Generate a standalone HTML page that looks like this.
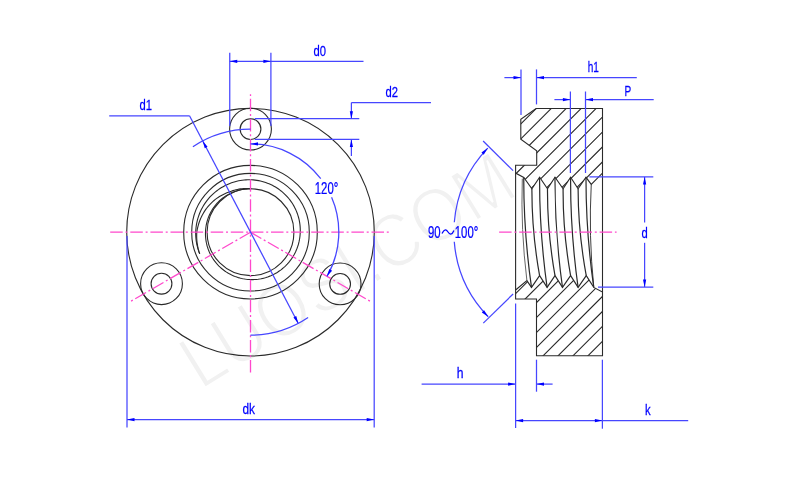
<!DOCTYPE html>
<html><head><meta charset="utf-8"><style>
html,body{margin:0;padding:0;background:#fff;}
svg{display:block;will-change:transform;}
text{font-family:"Liberation Sans",sans-serif;}
</style></head><body>
<svg width="800" height="481" viewBox="0 0 800 481">
<rect width="800" height="481" fill="#fff"/>
<text transform="translate(200.8 390.6) rotate(-31.6) scale(0.88 1)" font-size="76" fill="#f1f1f1" stroke="#fff" stroke-width="2">LUOSI.COM</text>
<circle cx="250.50" cy="232.20" r="123.80" fill="none" stroke="#2a2a2a" stroke-width="1.1"/>
<circle cx="250.50" cy="232.20" r="66.80" fill="none" stroke="#2a2a2a" stroke-width="1.1"/>
<circle cx="250.50" cy="232.20" r="58.80" fill="none" stroke="#2a2a2a" stroke-width="1.1"/>
<circle cx="250.50" cy="232.20" r="43.40" fill="none" stroke="#2a2a2a" stroke-width="1.1"/>
<path d="M199.69 253.77L199.00 251.97L198.37 250.15L197.81 248.31L197.32 246.45L196.88 244.58L196.52 242.69L196.22 240.80L195.99 238.89L195.82 236.98L195.72 235.07L195.69 233.16L195.74 231.24L195.86 229.34L196.04 227.44L196.30 225.54L196.62 223.67L197.00 221.80L197.45 219.95L197.96 218.12L198.54 216.31L199.18 214.53L199.87 212.77L200.63 211.03L201.45 209.33L202.33 207.66L203.26 206.02L204.25 204.41L205.30 202.84L206.40 201.32L207.55 199.83L208.75 198.39L210.00 196.99L211.30 195.64L212.64 194.34L214.02 193.08L215.45 191.88L216.92 190.73L218.42 189.63L219.96 188.58L221.53 187.59L223.14 186.66L224.77 185.78L226.42 184.95L228.10 184.17L229.81 183.46L231.54 182.81L233.29 182.22L235.06 181.69L236.84 181.22L238.64 180.82L240.45 180.48L242.26 180.20L244.09 179.99L245.92 179.84L247.75 179.76L249.58 179.74L251.41 179.79L253.24 179.91L255.06 180.10L256.87 180.35L258.66 180.66L260.44 181.04L262.21 181.47L263.96 181.97L265.69 182.53L267.39 183.15L269.07 183.82L270.72 184.55L272.35 185.34L273.94 186.19L275.51 187.09L277.03 188.04L278.53 189.04L279.98 190.10L281.40 191.20L282.77 192.35L284.10 193.54L285.39 194.78L286.63 196.07L287.83 197.39L288.98 198.75L290.07 200.16L291.12 201.59L292.11 203.06L293.05 204.57L293.94 206.10L294.77 207.66L295.55 209.25L296.27 210.86L296.93 212.49L297.53 214.15L298.08 215.82L298.56 217.51L298.99 219.21L299.35 220.92L299.66 222.64L299.90 224.38L300.09 226.11L300.21 227.85L300.27 229.59L300.27 231.33L300.22 233.07L300.10 234.80L299.93 236.52L299.70 238.24L299.41 239.95L299.05 241.64L298.64 243.31L298.18 244.97L297.65 246.62L297.07 248.24L296.43 249.83L295.74 251.40L295.00 252.95L294.20 254.47L293.35 255.95L292.45 257.41L291.50 258.83L290.50 260.21L289.46 261.56L288.37 262.87L287.24 264.14L286.06 265.36L284.85 266.55L283.59 267.69L282.30 268.78L280.97 269.83L279.61 270.83L278.21 271.78L276.79 272.68L275.33 273.52L273.85 274.32L272.34 275.06L270.81 275.75L269.26 276.38L267.68 276.96L266.09 277.49L264.49 277.95L262.87 278.36L261.24 278.72L259.60 279.01L257.95 279.25L256.30 279.43L254.64 279.55L252.98 279.61L251.33 279.62L249.67 279.57L248.02 279.46L246.38 279.29L244.75 279.06L243.12 278.78L241.51 278.44L239.92 278.05L238.34 277.60L236.77 277.10L235.23 276.54L233.71 275.93L232.22 275.27L230.75 274.55L229.31 273.79L227.89 272.98L226.51 272.12L225.16 271.21L223.85 270.26L222.57 269.27L221.32 268.23L220.12 267.15L218.96 266.03L217.83 264.87L216.75 263.67L215.71 262.44L214.72 261.17L213.77 259.88L212.87 258.55L212.02 257.19L211.22 255.80L210.47 254.39L209.76 252.96L209.11 251.50L208.51 250.02L207.97 248.53L207.47 247.02L207.03 245.49L206.65 243.95L206.32 242.40L206.04 240.84L205.82 239.28L205.65 237.71L205.54 236.13L205.48 234.56L205.48 232.99L205.53 231.41L205.62 229.85L205.77 228.29L205.97 226.73L206.23 225.19L206.54 223.66L206.91 222.14L207.32 220.63L207.79 219.14L208.31 217.67L208.88 216.22L209.50 214.80L210.17 213.39L210.89 212.02L211.65 210.66L212.46 209.34L213.31 208.05L214.21 206.79L215.15 205.56L216.13 204.37L217.16 203.22L218.22 202.10L219.32 201.02L220.45 199.98L221.62 198.98L222.82 198.02L224.06 197.11L225.32 196.24L226.61 195.42L227.93 194.64L229.27 193.90L230.63 193.21L232.02 192.56L233.42 191.96L234.84 191.41L236.28 190.92L237.74 190.47L239.21 190.07L240.69 189.73L242.19 189.44L243.69 189.20L245.20 189.01L246.71 188.88L248.23 188.80L249.74 188.77L251.26 188.79" fill="none" stroke="#2a2a2a" stroke-width="1.1"/>
<path d="M199.69 253.77L199.09 251.94L198.55 250.09L198.09 248.22L197.68 246.35L197.35 244.47L197.08 242.58L196.88 240.69L196.75 238.80L196.68 236.91L196.68 235.02L196.74 233.14L196.94 231.27L197.26 229.41L197.65 227.58L198.11 225.77L198.62 223.98L199.19 222.23L199.83 220.50L200.52 218.81L201.26 217.15L202.07 215.52L202.92 213.94L203.83 212.39L204.78 210.88L205.79 209.42L206.84 208.00L207.93 206.62L209.07 205.29L210.25 204.02L211.48 202.79L212.74 201.62L214.03 200.50L215.35 199.43L216.71 198.41L218.09 197.45L219.50 196.54L220.93 195.69L222.39 194.90L223.86 194.16L225.35 193.48L226.86 192.85L228.38 192.29L229.88 191.72L231.36 191.15L232.86 190.64L234.37 190.18L235.89 189.77L237.42 189.42L238.96 189.13L240.50 188.89L242.05 188.70L243.59 188.57L245.13 188.50L246.67 188.48L248.21 188.51L249.74 188.60L251.26 188.74" fill="none" stroke="#2a2a2a" stroke-width="1.1"/>
<circle cx="250.50" cy="129.10" r="20.90" fill="none" stroke="#2a2a2a" stroke-width="1.1"/>
<circle cx="250.50" cy="129.10" r="10.40" fill="none" stroke="#2a2a2a" stroke-width="1.1"/>
<circle cx="161.50" cy="283.70" r="20.90" fill="none" stroke="#2a2a2a" stroke-width="1.1"/>
<circle cx="161.50" cy="283.70" r="10.40" fill="none" stroke="#2a2a2a" stroke-width="1.1"/>
<circle cx="340.10" cy="283.90" r="20.90" fill="none" stroke="#2a2a2a" stroke-width="1.1"/>
<circle cx="340.10" cy="283.90" r="10.40" fill="none" stroke="#2a2a2a" stroke-width="1.1"/>
<line x1="110.20" y1="232.20" x2="388.75" y2="232.20" stroke="#ff48cc" stroke-width="1.3" stroke-dasharray="12.5 2.8 2 2.8"/>
<line x1="250.50" y1="372.60" x2="250.50" y2="94.20" stroke="#ff48cc" stroke-width="1.3" stroke-dasharray="12.5 2.8 2 2.8"/>
<line x1="250.50" y1="232.20" x2="370.01" y2="301.20" stroke="#ff48cc" stroke-width="1.3" stroke-dasharray="12.5 2.8 2 2.8"/>
<line x1="250.50" y1="232.20" x2="130.99" y2="301.20" stroke="#ff48cc" stroke-width="1.3" stroke-dasharray="12.5 2.8 2 2.8"/>
<line x1="229.75" y1="52.80" x2="229.75" y2="126.00" stroke="#4646ff" stroke-width="1.25" />
<line x1="270.90" y1="52.80" x2="270.90" y2="126.00" stroke="#4646ff" stroke-width="1.25" />
<line x1="229.75" y1="61.30" x2="363.50" y2="61.30" stroke="#4646ff" stroke-width="1.25" />
<path d="M229.75 61.30L237.25 59.70L237.25 62.90Z" fill="#0000ff"/>
<path d="M270.90 61.30L263.40 62.90L263.40 59.70Z" fill="#0000ff"/>
<text transform="translate(313.50 55.60) scale(0.76 1)" font-size="14.8" fill="#0000ff" stroke="#0000ff" stroke-width="0.25">d0</text>
<line x1="254.75" y1="118.70" x2="359.30" y2="118.70" stroke="#4646ff" stroke-width="1.25" />
<line x1="254.75" y1="139.40" x2="359.30" y2="139.40" stroke="#4646ff" stroke-width="1.25" />
<line x1="351.40" y1="102.60" x2="351.40" y2="118.70" stroke="#4646ff" stroke-width="1.25" />
<line x1="351.40" y1="139.40" x2="351.40" y2="156.00" stroke="#4646ff" stroke-width="1.25" />
<line x1="351.40" y1="102.60" x2="431.00" y2="102.60" stroke="#4646ff" stroke-width="1.25" />
<path d="M351.40 118.70L349.80 111.20L353.00 111.20Z" fill="#0000ff"/>
<path d="M351.40 139.40L353.00 146.90L349.80 146.90Z" fill="#0000ff"/>
<text transform="translate(385.50 97.10) scale(0.76 1)" font-size="14.8" fill="#0000ff" stroke="#0000ff" stroke-width="0.25">d2</text>
<line x1="109.20" y1="115.80" x2="189.50" y2="115.80" stroke="#4646ff" stroke-width="1.25" />
<line x1="189.50" y1="115.80" x2="298.31" y2="323.43" stroke="#4646ff" stroke-width="1.25" />
<path d="M202.69 140.97L207.59 146.87L204.75 148.35Z" fill="#0000ff"/>
<path d="M298.31 323.43L293.41 317.53L296.25 316.05Z" fill="#0000ff"/>
<path d="M192.90 146.81A103.00 103.00 0 0 1 250.50 129.20" fill="none" stroke="#4646ff" stroke-width="1.25" />
<path d="M250.50 335.20A103.00 103.00 0 0 0 308.10 317.59" fill="none" stroke="#4646ff" stroke-width="1.25" />
<text transform="translate(139.50 110.30) scale(0.76 1)" font-size="14.8" fill="#0000ff" stroke="#0000ff" stroke-width="0.25">d1</text>
<path d="M250.50 143.90A88.30 88.30 0 0 1 320.74 178.69" fill="none" stroke="#4646ff" stroke-width="1.25" />
<path d="M331.60 197.27A88.30 88.30 0 0 1 326.97 276.35" fill="none" stroke="#4646ff" stroke-width="1.25" />
<path d="M250.50 143.90L258.00 142.30L258.00 145.50Z" fill="#0000ff"/>
<path d="M326.97 276.35L329.33 269.05L332.11 270.65Z" fill="#0000ff"/>
<text transform="translate(314.80 193.90) scale(0.72 1)" font-size="15.8" fill="#0000ff" stroke="#0000ff" stroke-width="0.25">120°</text>
<line x1="127.00" y1="236.00" x2="127.00" y2="427.40" stroke="#4646ff" stroke-width="1.25" />
<line x1="374.20" y1="236.00" x2="374.20" y2="427.40" stroke="#4646ff" stroke-width="1.25" />
<line x1="127.00" y1="419.60" x2="374.20" y2="419.60" stroke="#4646ff" stroke-width="1.25" />
<path d="M127.00 419.60L134.50 418.00L134.50 421.20Z" fill="#0000ff"/>
<path d="M374.20 419.60L366.70 421.20L366.70 418.00Z" fill="#0000ff"/>
<text transform="translate(242.50 414.00) scale(0.8 1)" font-size="14.8" fill="#0000ff" stroke="#0000ff" stroke-width="0.25">dk</text>
<clipPath id="cu"><path d="M536.00 108.50L602.50 108.50L602.50 173.10L591.25 184.40L586.00 177.30L578.10 188.70L570.60 177.30L563.10 188.70L555.00 177.30L547.50 188.70L539.60 177.30L531.90 188.70L523.75 177.50L515.60 173.10L515.60 165.25L536.70 165.25L536.70 150.80L520.80 139.20L520.80 119.20Z"/></clipPath>
<clipPath id="cl"><path d="M515.60 290.00L526.90 280.60L531.50 287.40L539.60 275.60L547.10 287.40L555.00 275.60L562.50 287.40L570.60 275.60L578.10 287.40L586.25 275.60L593.75 287.40L602.50 292.00L602.50 355.80L536.50 355.80L536.50 299.00L515.60 299.00Z"/></clipPath>
<path d="M410.20 100L140.20 370M425.15 100L155.15 370M440.10 100L170.10 370M455.05 100L185.05 370M470.00 100L200.00 370M484.95 100L214.95 370M499.90 100L229.90 370M514.85 100L244.85 370M529.80 100L259.80 370M544.75 100L274.75 370M559.70 100L289.70 370M574.65 100L304.65 370M589.60 100L319.60 370M604.55 100L334.55 370M619.50 100L349.50 370M634.45 100L364.45 370M649.40 100L379.40 370M664.35 100L394.35 370M679.30 100L409.30 370M694.25 100L424.25 370M709.20 100L439.20 370M724.15 100L454.15 370M739.10 100L469.10 370M754.05 100L484.05 370M769.00 100L499.00 370M783.95 100L513.95 370M798.90 100L528.90 370M813.85 100L543.85 370M828.80 100L558.80 370M843.75 100L573.75 370M858.70 100L588.70 370M873.65 100L603.65 370M888.60 100L618.60 370" stroke="#2a2a2a" stroke-width="1.1" fill="none" clip-path="url(#cu)"/>
<path d="M410.20 100L140.20 370M425.15 100L155.15 370M440.10 100L170.10 370M455.05 100L185.05 370M470.00 100L200.00 370M484.95 100L214.95 370M499.90 100L229.90 370M514.85 100L244.85 370M529.80 100L259.80 370M544.75 100L274.75 370M559.70 100L289.70 370M574.65 100L304.65 370M589.60 100L319.60 370M604.55 100L334.55 370M619.50 100L349.50 370M634.45 100L364.45 370M649.40 100L379.40 370M664.35 100L394.35 370M679.30 100L409.30 370M694.25 100L424.25 370M709.20 100L439.20 370M724.15 100L454.15 370M739.10 100L469.10 370M754.05 100L484.05 370M769.00 100L499.00 370M783.95 100L513.95 370M798.90 100L528.90 370M813.85 100L543.85 370M828.80 100L558.80 370M843.75 100L573.75 370M858.70 100L588.70 370M873.65 100L603.65 370M888.60 100L618.60 370" stroke="#2a2a2a" stroke-width="1.1" fill="none" clip-path="url(#cl)"/>
<path d="M536.00 108.50L602.50 108.50L602.50 173.10L591.25 184.40L586.00 177.30L578.10 188.70L570.60 177.30L563.10 188.70L555.00 177.30L547.50 188.70L539.60 177.30L531.90 188.70L523.75 177.50L515.60 173.10L515.60 165.25L536.70 165.25L536.70 150.80L520.80 139.20L520.80 119.20Z" fill="none" stroke="#2a2a2a" stroke-width="1.1"/>
<path d="M515.60 290.00L526.90 280.60L531.50 287.40L539.60 275.60L547.10 287.40L555.00 275.60L562.50 287.40L570.60 275.60L578.10 287.40L586.25 275.60L593.75 287.40L602.50 292.00L602.50 355.80L536.50 355.80L536.50 299.00L515.60 299.00Z" fill="none" stroke="#2a2a2a" stroke-width="1.1"/>
<line x1="515.60" y1="173.10" x2="515.60" y2="290.00" stroke="#2a2a2a" stroke-width="1.1" />
<line x1="602.50" y1="173.10" x2="602.50" y2="292.00" stroke="#2a2a2a" stroke-width="1.1" />
<path d="M523.75 177.30Q523.62 232.35 531.50 287.40" fill="none" stroke="#2a2a2a" stroke-width="1.2"/>
<path d="M539.60 177.30Q539.35 232.35 547.10 287.40" fill="none" stroke="#2a2a2a" stroke-width="1.2"/>
<path d="M555.00 177.30Q554.75 232.35 562.50 287.40" fill="none" stroke="#2a2a2a" stroke-width="1.2"/>
<path d="M570.60 177.30Q570.35 232.35 578.10 287.40" fill="none" stroke="#2a2a2a" stroke-width="1.2"/>
<path d="M586.00 177.30Q585.88 232.35 593.75 287.40" fill="none" stroke="#2a2a2a" stroke-width="1.2"/>
<path d="M531.90 188.70Q531.75 232.15 539.60 275.60" fill="none" stroke="#2a2a2a" stroke-width="1.2"/>
<path d="M547.50 188.70Q547.25 232.15 555.00 275.60" fill="none" stroke="#2a2a2a" stroke-width="1.2"/>
<path d="M563.10 188.70Q562.85 232.15 570.60 275.60" fill="none" stroke="#2a2a2a" stroke-width="1.2"/>
<path d="M578.10 188.70Q578.17 232.15 586.25 275.60" fill="none" stroke="#2a2a2a" stroke-width="1.2"/>
<path d="M522.30 178.60Q520.60 229.60 526.90 280.60" fill="none" stroke="#555" stroke-width="0.9"/>
<path d="M591.25 184.40Q588.50 235.65 593.75 286.90" fill="none" stroke="#2a2a2a" stroke-width="0.9"/>
<line x1="499.10" y1="232.20" x2="616.60" y2="232.20" stroke="#ff48cc" stroke-width="1.3" stroke-dasharray="12.5 2.8 2 2.8"/>
<line x1="521.00" y1="69.40" x2="521.00" y2="115.00" stroke="#4646ff" stroke-width="1.25" />
<line x1="536.50" y1="69.40" x2="536.50" y2="104.40" stroke="#4646ff" stroke-width="1.25" />
<line x1="504.40" y1="77.60" x2="521.00" y2="77.60" stroke="#4646ff" stroke-width="1.25" />
<line x1="536.50" y1="77.60" x2="636.80" y2="77.60" stroke="#4646ff" stroke-width="1.25" />
<path d="M521.00 77.60L513.50 79.20L513.50 76.00Z" fill="#0000ff"/>
<path d="M536.50 77.60L544.00 76.00L544.00 79.20Z" fill="#0000ff"/>
<text transform="translate(587.70 71.80) scale(0.68 1)" font-size="14.8" fill="#0000ff" stroke="#0000ff" stroke-width="0.25">h1</text>
<line x1="570.40" y1="91.50" x2="570.40" y2="173.00" stroke="#4646ff" stroke-width="1.25" />
<line x1="585.50" y1="91.50" x2="585.50" y2="173.00" stroke="#4646ff" stroke-width="1.25" />
<line x1="554.40" y1="99.60" x2="570.40" y2="99.60" stroke="#4646ff" stroke-width="1.25" />
<line x1="585.50" y1="99.60" x2="653.70" y2="99.60" stroke="#4646ff" stroke-width="1.25" />
<path d="M570.40 99.60L562.90 101.20L562.90 98.00Z" fill="#0000ff"/>
<path d="M585.50 99.60L593.00 98.00L593.00 101.20Z" fill="#0000ff"/>
<text transform="translate(624.60 95.50) scale(0.68 1)" font-size="14.8" fill="#0000ff" stroke="#0000ff" stroke-width="0.25">P</text>
<line x1="589.40" y1="176.90" x2="653.30" y2="176.90" stroke="#4646ff" stroke-width="1.25" />
<line x1="598.00" y1="287.00" x2="653.30" y2="287.00" stroke="#4646ff" stroke-width="1.25" />
<line x1="644.60" y1="176.90" x2="644.60" y2="222.50" stroke="#4646ff" stroke-width="1.25" />
<line x1="644.60" y1="242.80" x2="644.60" y2="287.00" stroke="#4646ff" stroke-width="1.25" />
<path d="M644.60 176.90L646.20 184.40L643.00 184.40Z" fill="#0000ff"/>
<path d="M644.60 287.00L643.00 279.50L646.20 279.50Z" fill="#0000ff"/>
<text transform="translate(641.50 237.90) scale(0.76 1)" font-size="14.8" fill="#0000ff" stroke="#0000ff" stroke-width="0.25">d</text>
<line x1="483.10" y1="141.00" x2="513.10" y2="170.60" stroke="#4646ff" stroke-width="1.25" />
<line x1="483.30" y1="323.10" x2="513.10" y2="294.00" stroke="#4646ff" stroke-width="1.25" />
<path d="M487.77 148.12A121.30 121.30 0 0 0 454.30 222.30" fill="none" stroke="#4646ff" stroke-width="1.25" />
<path d="M454.27 241.70A121.30 121.30 0 0 0 488.19 316.71" fill="none" stroke="#4646ff" stroke-width="1.25" />
<path d="M487.77 148.12L483.72 154.63L481.42 152.42Z" fill="#0000ff"/>
<path d="M488.19 316.71L481.82 312.45L484.11 310.22Z" fill="#0000ff"/>
<text transform="translate(428.00 237.80) scale(0.72 1)" font-size="15.8" fill="#0000ff" stroke="#0000ff" stroke-width="0.25">90</text>
<path d="M442 233.6C444.3 228.6 446.3 229.3 448 232C449.7 234.7 451.7 235.4 454 230.4" fill="none" stroke="#0000ff" stroke-width="1.3"/>
<text transform="translate(454.80 237.80) scale(0.72 1)" font-size="15.8" fill="#0000ff" stroke="#0000ff" stroke-width="0.25">100°</text>
<line x1="421.60" y1="384.10" x2="515.60" y2="384.10" stroke="#4646ff" stroke-width="1.25" />
<line x1="536.50" y1="384.10" x2="552.60" y2="384.10" stroke="#4646ff" stroke-width="1.25" />
<path d="M515.60 384.10L508.10 385.70L508.10 382.50Z" fill="#0000ff"/>
<path d="M536.50 384.10L544.00 382.50L544.00 385.70Z" fill="#0000ff"/>
<line x1="515.60" y1="303.50" x2="515.60" y2="428.00" stroke="#4646ff" stroke-width="1.25" />
<line x1="536.50" y1="359.70" x2="536.50" y2="391.70" stroke="#4646ff" stroke-width="1.25" />
<text transform="translate(456.70 378.30) scale(0.82 1)" font-size="14.8" fill="#0000ff" stroke="#0000ff" stroke-width="0.25">h</text>
<line x1="515.60" y1="420.60" x2="688.20" y2="420.60" stroke="#4646ff" stroke-width="1.25" />
<path d="M515.60 420.60L523.10 419.00L523.10 422.20Z" fill="#0000ff"/>
<path d="M602.40 420.60L594.90 422.20L594.90 419.00Z" fill="#0000ff"/>
<line x1="602.40" y1="359.70" x2="602.40" y2="428.70" stroke="#4646ff" stroke-width="1.25" />
<text transform="translate(645.00 415.20) scale(0.76 1)" font-size="14.8" fill="#0000ff" stroke="#0000ff" stroke-width="0.25">k</text>
</svg>
</body></html>
